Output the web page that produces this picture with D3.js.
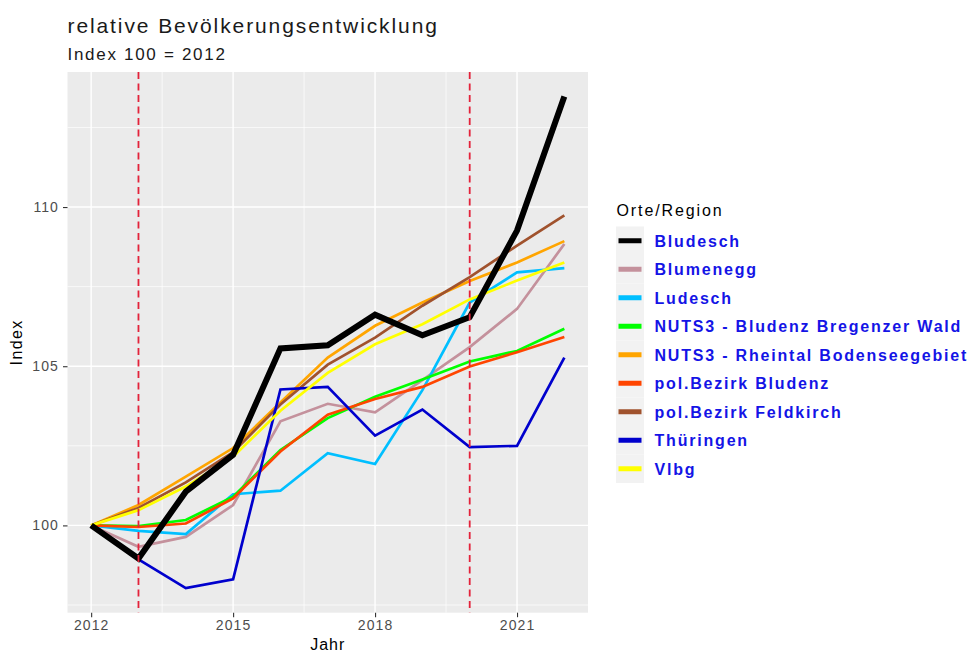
<!DOCTYPE html>
<html>
<head>
<meta charset="utf-8">
<script src="https://cdn.jsdelivr.net/npm/d3@7"></script>
<style>
    body { margin: 0; background: #fff; }
    text { font-family: "Liberation Sans", Arial, sans-serif; }
</style>
</head>
<body>
<div id="chart"></div>
<script>
let years = [2012, 2013, 2014, 2015, 2016, 2017, 2018, 2019, 2020, 2021, 2022];

let names = ["Bludesch", "Blumenegg", "Ludesch", "NUTS3 - Bludenz Bregenzer Wald",
    "NUTS3 - Rheintal Bodenseegebiet", "pol.Bezirk Bludenz", "pol.Bezirk Feldkirch",
    "Thüringen", "Vlbg"];

let bludesch = [100, 98.96, 101.06, 102.22, 105.56, 105.66, 106.62, 105.97, 106.54, 109.26, 113.47];
let blumenegg = [100, 99.33, 99.64, 100.64, 103.27, 103.82, 103.55, 104.56, 105.6, 106.8, 108.84];
let ludesch = [100, 99.83, 99.73, 100.98, 101.09, 102.27, 101.93, 104.25, 107.0, 107.95, 108.08];
let nuts3Bludenz = [100, 99.98, 100.17, 100.9, 102.37, 103.37, 104.04, 104.58, 105.15, 105.48, 106.18];
let nuts3Rheintal = [100, 100.64, 101.53, 102.43, 103.86, 105.27, 106.27, 107.0, 107.68, 108.26, 108.93];
let bezBludenz = [100, 99.95, 100.06, 100.85, 102.32, 103.48, 103.97, 104.35, 104.99, 105.44, 105.92];
let bezFeldkirch = [100, 100.55, 101.35, 102.3, 103.8, 105.05, 105.9, 106.9, 107.8, 108.79, 109.74];
let thueringen = [100, 98.93, 98.03, 98.31, 104.27, 104.35, 102.82, 103.64, 102.46, 102.5, 105.27];
let vlbg = [100, 100.48, 101.22, 102.16, 103.6, 104.79, 105.69, 106.32, 107.1, 107.69, 108.26];

let xTicks = [2012, 2015, 2018, 2021];
let yTicks = [100, 105, 110];
let markedYears = [2013, 2020];

let colors = ["#000000", "#c4919c", "#00bfff", "#00ff00", "#ffa500", "#ff4500", "#a0522d", "#0000cd", "#ffff00"];
let widths = [6, 2.7, 2.7, 2.7, 2.7, 2.7, 2.7, 2.7, 2.7];

let values = [bludesch, blumenegg, ludesch, nuts3Bludenz, nuts3Rheintal, bezBludenz, bezFeldkirch, thueringen, vlbg];
let series = names.map(function (n, i) {
    return {name: n, color: colors[i], width: widths[i],
        points: years.map(function (y, j) { return [y, values[i][j]]; })};
});

function plot_lines(target) {
    let w = 973;
    let h = 652;
    let left = 67.5, right = 588, top = 72, bottom = 612.7;

    let svg = d3.select(target)
        .append("svg")
        .attr("width", w)
        .attr("height", h);

    // ggplot style expansion: 5% on both sides
    let allV = d3.merge(values);
    let yMin = d3.min(allV), yMax = d3.max(allV);
    let yPad = (yMax - yMin) * 0.05;
    let xPad = (d3.max(years) - d3.min(years)) * 0.05;

    let x = d3.scaleLinear()
        .domain([d3.min(years) - xPad, d3.max(years) + xPad])
        .range([left, right]);
    let y = d3.scaleLinear()
        .domain([yMin - yPad, yMax + yPad])
        .range([bottom, top]);

    svg.append("rect")
        .attr("x", left)
        .attr("y", top)
        .attr("width", right - left)
        .attr("height", bottom - top)
        .attr("fill", "#ebebeb");

    // minor grid
    let xMinor = xTicks.slice(0, -1).map(function (d, i) { return (d + xTicks[i + 1]) / 2; });
    xMinor.unshift(xTicks[0] - 1.5);
    xMinor.push(xTicks[xTicks.length - 1] + 1.5);
    xMinor = xMinor.filter(function (d) { return x(d) > left && x(d) < right; });
    let yMinor = [yTicks[0] - 2.5].concat(yTicks.map(function (d) { return d + 2.5; }))
        .filter(function (d) { return y(d) > top && y(d) < bottom; });

    svg.selectAll("line.xminor")
        .data(xMinor)
        .enter()
        .append("line")
        .attr("x1", function (d) { return x(d); })
        .attr("x2", function (d) { return x(d); })
        .attr("y1", top)
        .attr("y2", bottom)
        .attr("stroke", "#fff")
        .attr("stroke-width", 0.7);
    svg.selectAll("line.yminor")
        .data(yMinor)
        .enter()
        .append("line")
        .attr("x1", left)
        .attr("x2", right)
        .attr("y1", function (d) { return y(d); })
        .attr("y2", function (d) { return y(d); })
        .attr("stroke", "#fff")
        .attr("stroke-width", 0.7);

    // major grid
    svg.selectAll("line.xmajor")
        .data(xTicks)
        .enter()
        .append("line")
        .attr("x1", function (d) { return x(d); })
        .attr("x2", function (d) { return x(d); })
        .attr("y1", top)
        .attr("y2", bottom)
        .attr("stroke", "#fff")
        .attr("stroke-width", 1.4);
    svg.selectAll("line.ymajor")
        .data(yTicks)
        .enter()
        .append("line")
        .attr("x1", left)
        .attr("x2", right)
        .attr("y1", function (d) { return y(d); })
        .attr("y2", function (d) { return y(d); })
        .attr("stroke", "#fff")
        .attr("stroke-width", 1.4);

    // axes
    let xAxis = svg.append("g")
        .attr("transform", "translate(0," + bottom + ")")
        .call(d3.axisBottom(x).tickValues(xTicks).tickFormat(d3.format("d")).tickSize(4.5).tickPadding(3));
    let yAxis = svg.append("g")
        .attr("transform", "translate(" + left + ",0)")
        .call(d3.axisLeft(y).tickValues(yTicks).tickSize(4.5).tickPadding(4));
    [xAxis, yAxis].forEach(function (a) {
        a.select(".domain").remove();
        a.selectAll("line").attr("stroke", "#333").attr("stroke-width", 1.1);
        a.selectAll("text")
            .attr("fill", "#4d4d4d")
            .style("font-size", "14px")
            .style("font-family", "'Liberation Sans', Arial, sans-serif")
            .style("letter-spacing", "1.1px");
    });

    let line = d3.line()
        .x(function (d) { return x(d[0]); })
        .y(function (d) { return y(d[1]); });

    // black series drawn last so it sits on top
    let order = series.slice(1).concat([series[0]]);
    svg.selectAll("path.series")
        .data(order)
        .enter()
        .append("path")
        .attr("d", function (d) { return line(d.points); })
        .attr("fill", "none")
        .attr("stroke", function (d) { return d.color; })
        .attr("stroke-width", function (d) { return d.width; })
        .attr("stroke-linejoin", "miter")
        .attr("stroke-linecap", "butt");

    svg.selectAll("line.marked")
        .data(markedYears)
        .enter()
        .append("line")
        .attr("x1", function (d) { return x(d); })
        .attr("x2", function (d) { return x(d); })
        .attr("y1", top)
        .attr("y2", bottom)
        .attr("stroke", "#e3223a")
        .attr("stroke-width", 1.8)
        .attr("stroke-dasharray", "7,4.5");

    // titles
    svg.append("text")
        .text("relative Bevölkerungsentwicklung")
        .attr("x", 67.5)
        .attr("y", 33)
        .attr("font-size", "21px")
        .style("letter-spacing", "1.9px")
        .attr("fill", "#1a1a1a");
    svg.append("text")
        .text("Index 100 = 2012")
        .attr("x", 67.5)
        .attr("y", 59.5)
        .attr("font-size", "17px")
        .style("letter-spacing", "1.7px")
        .attr("fill", "#1a1a1a");
    svg.append("text")
        .text("Jahr")
        .attr("x", (left + right) / 2)
        .attr("y", 650)
        .attr("text-anchor", "middle")
        .attr("font-size", "16px")
        .style("letter-spacing", "1px")
        .attr("fill", "#000");
    svg.append("text")
        .text("Index")
        .attr("transform", "translate(22," + ((top + bottom) / 2) + ") rotate(-90)")
        .attr("text-anchor", "middle")
        .attr("font-size", "16px")
        .style("letter-spacing", "1.4px")
        .attr("fill", "#000");

    // legend
    let lx = 616, ly = 226.5, step = 28.5;
    svg.append("text")
        .text("Orte/Region")
        .attr("x", lx + 0.5)
        .attr("y", 215.5)
        .attr("font-size", "16px")
        .style("letter-spacing", "1.9px")
        .attr("fill", "#000");

    let items = svg.selectAll("g.legend")
        .data(series)
        .enter()
        .append("g")
        .attr("transform", function (d, i) { return "translate(" + lx + "," + (ly + i * step) + ")"; });
    items.append("rect")
        .attr("width", 28)
        .attr("height", step)
        .attr("fill", "#f2f2f2");
    items.append("line")
        .attr("x1", 2.5)
        .attr("x2", 25.5)
        .attr("y1", step / 2)
        .attr("y2", step / 2)
        .attr("stroke", function (d) { return d.color; })
        .attr("stroke-width", 5);
    items.append("text")
        .text(function (d) { return d.name; })
        .attr("x", 38.5)
        .attr("y", step / 2 + 6)
        .attr("font-size", "16px")
        .attr("font-weight", "bold")
        .style("letter-spacing", "1.8px")
        .attr("fill", "#1414e6");
}

plot_lines("#chart");
</script>
</body>
</html>
